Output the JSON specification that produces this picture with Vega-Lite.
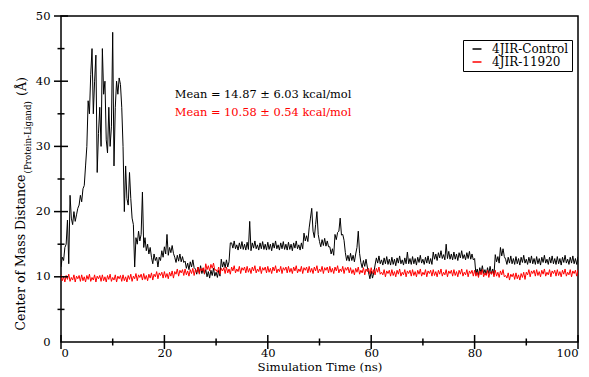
{
  "$schema": "https://vega.github.io/schema/vega-lite/v6.json",
  "width": 517,
  "height": 326,
  "autosize": {"type": "none"},
  "padding": {"left": 61, "top": 16, "right": 11, "bottom": 35},
  "background": "white",
  "config": {
    "font": "DejaVu Serif",
    "view": {"stroke": "black", "strokeWidth": 1.5},
    "axis": {"zindex": 1, "grid": false, "domain": false, "tickOpacity": 0, "labelColor": "black", "labelFont": "DejaVu Serif", "titleFont": "DejaVu Serif", "titleColor": "black", "titleFontWeight": "normal", "labelFontSize": 11.5, "titleFontSize": 12}
  },
  "datasets": {
    "traj": [
{"t":0,"c":11.5,"r":10.3},{"t":0.25,"c":13,"r":9.4},{"t":0.5,"c":12.5,"r":10.0},{"t":0.75,"c":14.5,"r":9.2},
{"t":1,"c":15,"r":10.2},{"t":1.25,"c":18.7,"r":9.6},{"t":1.5,"c":12,"r":10.4},{"t":1.75,"c":22.5,"r":9.3},
{"t":2,"c":19,"r":9.9},{"t":2.25,"c":18,"r":9.5},{"t":2.5,"c":20,"r":10.3},{"t":2.75,"c":18.5,"r":9.2},
{"t":3,"c":19.5,"r":10.1},{"t":3.25,"c":20.5,"r":9.7},{"t":3.5,"c":21,"r":10.2},{"t":3.75,"c":22.5,"r":9.3},
{"t":4,"c":21.5,"r":10.3},{"t":4.25,"c":23.5,"r":9.4},{"t":4.5,"c":24,"r":10.0},{"t":4.75,"c":27,"r":9.2},
{"t":5,"c":30,"r":10.2},{"t":5.25,"c":37,"r":9.6},{"t":5.5,"c":35,"r":10.4},{"t":5.75,"c":41,"r":9.3},
{"t":6,"c":45,"r":9.9},{"t":6.25,"c":35,"r":9.5},{"t":6.5,"c":40,"r":10.3},{"t":6.75,"c":44,"r":9.2},
{"t":7,"c":26,"r":10.1},{"t":7.25,"c":32,"r":9.7},{"t":7.5,"c":36,"r":10.2},{"t":7.75,"c":30,"r":9.3},
{"t":8,"c":45,"r":10.3},{"t":8.25,"c":38,"r":9.4},{"t":8.5,"c":40,"r":10.0},{"t":8.75,"c":31,"r":9.2},
{"t":9,"c":29,"r":10.2},{"t":9.25,"c":36,"r":9.6},{"t":9.5,"c":30,"r":10.4},{"t":9.75,"c":33,"r":9.3},
{"t":10,"c":47.5,"r":9.9},{"t":10.25,"c":27,"r":9.5},{"t":10.5,"c":36,"r":10.3},{"t":10.75,"c":40,"r":9.2},
{"t":11,"c":38,"r":10.1},{"t":11.25,"c":40.5,"r":9.7},{"t":11.5,"c":39.5,"r":10.2},{"t":11.75,"c":36,"r":9.3},
{"t":12,"c":30,"r":10.3},{"t":12.25,"c":20,"r":9.4},{"t":12.5,"c":27,"r":10.0},{"t":12.75,"c":22,"r":9.2},
{"t":13,"c":21,"r":10.2},{"t":13.25,"c":26,"r":9.6},{"t":13.5,"c":22,"r":10.4},{"t":13.75,"c":19,"r":9.3},
{"t":14,"c":18,"r":10.1},{"t":14.25,"c":11.5,"r":9.7},{"t":14.5,"c":16,"r":10.5},{"t":14.75,"c":15,"r":9.4},
{"t":15,"c":17,"r":10.3},{"t":15.25,"c":15.5,"r":9.9},{"t":15.5,"c":16.5,"r":10.4},{"t":15.75,"c":23,"r":9.5},
{"t":16,"c":14.5,"r":10.5},{"t":16.25,"c":16,"r":9.6},{"t":16.5,"c":14,"r":10.2},{"t":16.75,"c":15,"r":9.4},
{"t":17,"c":13.5,"r":10.4},{"t":17.25,"c":14.5,"r":9.8},{"t":17.5,"c":13,"r":10.6},{"t":17.75,"c":12,"r":9.5},
{"t":18,"c":13.5,"r":10.4},{"t":18.25,"c":12.5,"r":10.0},{"t":18.5,"c":13,"r":10.8},{"t":18.75,"c":11.5,"r":9.7},
{"t":19,"c":13,"r":10.6},{"t":19.25,"c":12.5,"r":10.2},{"t":19.5,"c":14,"r":10.7},{"t":19.75,"c":13,"r":9.8},
{"t":20,"c":14.6,"r":10.8},{"t":20.25,"c":13.5,"r":9.9},{"t":20.5,"c":16.5,"r":10.5},{"t":20.75,"c":13.3,"r":9.7},
{"t":21,"c":14.5,"r":10.7},{"t":21.25,"c":13.7,"r":10.1},{"t":21.5,"c":14.8,"r":10.9},{"t":21.75,"c":13.6,"r":9.8},
{"t":22,"c":13.0,"r":10.8},{"t":22.25,"c":12.2,"r":10.4},{"t":22.5,"c":13.3,"r":11.2},{"t":22.75,"c":12.4,"r":10.1},
{"t":23,"c":13.5,"r":11.0},{"t":23.25,"c":12.3,"r":10.6},{"t":23.5,"c":13.1,"r":11.1},{"t":23.75,"c":12.2,"r":10.2},
{"t":24,"c":12.4,"r":11.2},{"t":24.25,"c":11.3,"r":10.3},{"t":24.5,"c":12.1,"r":10.9},{"t":24.75,"c":11.1,"r":10.1},
{"t":25,"c":12.3,"r":11.1},{"t":25.25,"c":11.5,"r":10.5},{"t":25.5,"c":12.6,"r":11.3},{"t":25.75,"c":11.4,"r":10.2},
{"t":26,"c":11.2,"r":11.1},{"t":26.25,"c":10.4,"r":10.7},{"t":26.5,"c":11.5,"r":11.5},{"t":26.75,"c":10.6,"r":10.4},
{"t":27,"c":11.7,"r":11.3},{"t":27.25,"c":10.5,"r":10.9},{"t":27.5,"c":11.3,"r":11.4},{"t":27.75,"c":10.4,"r":10.5},
{"t":28,"c":11.1,"r":12.0},{"t":28.25,"c":10.0,"r":11.1},{"t":28.5,"c":10.8,"r":11.7},{"t":28.75,"c":9.8,"r":10.9},
{"t":29,"c":11.0,"r":11.9},{"t":29.25,"c":10.2,"r":11.3},{"t":29.5,"c":11.3,"r":12.1},{"t":29.75,"c":10.1,"r":11.0},
{"t":30,"c":10.7,"r":11.1},{"t":30.25,"c":9.9,"r":10.7},{"t":30.5,"c":11.0,"r":11.5},{"t":30.75,"c":10.1,"r":10.4},
{"t":31,"c":12.7,"r":11.3},{"t":31.25,"c":11.5,"r":10.9},{"t":31.5,"c":12.3,"r":11.4},{"t":31.75,"c":11.4,"r":10.5},
{"t":32,"c":12.6,"r":11.5},{"t":32.25,"c":11.5,"r":10.6},{"t":32.5,"c":12.3,"r":11.2},{"t":32.75,"c":15.2,"r":10.4},
{"t":33,"c":15.2,"r":11.5},{"t":33.25,"c":14.4,"r":10.9},{"t":33.5,"c":15.5,"r":11.7},{"t":33.75,"c":14.3,"r":10.6},
{"t":34,"c":14.9,"r":11.2},{"t":34.25,"c":14.1,"r":10.8},{"t":34.5,"c":15.2,"r":11.6},{"t":34.75,"c":14.3,"r":10.5},
{"t":35,"c":15.4,"r":11.4},{"t":35.25,"c":14.2,"r":11.0},{"t":35.5,"c":15.0,"r":11.5},{"t":35.75,"c":14.1,"r":10.6},
{"t":36,"c":15.3,"r":11.6},{"t":36.25,"c":14.2,"r":10.7},{"t":36.5,"c":18.5,"r":11.3},{"t":36.75,"c":14.0,"r":10.5},
{"t":37,"c":15.2,"r":11.5},{"t":37.25,"c":14.4,"r":10.9},{"t":37.5,"c":15.5,"r":11.7},{"t":37.75,"c":14.3,"r":10.6},
{"t":38,"c":14.9,"r":11.2},{"t":38.25,"c":14.1,"r":10.8},{"t":38.5,"c":15.2,"r":11.6},{"t":38.75,"c":14.3,"r":10.5},
{"t":39,"c":15.4,"r":11.4},{"t":39.25,"c":14.2,"r":11.0},{"t":39.5,"c":15.0,"r":11.5},{"t":39.75,"c":14.1,"r":10.6},
{"t":40,"c":15.3,"r":11.6},{"t":40.25,"c":14.2,"r":10.7},{"t":40.5,"c":15.0,"r":11.3},{"t":40.75,"c":14.0,"r":10.5},
{"t":41,"c":15.2,"r":11.5},{"t":41.25,"c":14.4,"r":10.9},{"t":41.5,"c":15.5,"r":11.7},{"t":41.75,"c":14.3,"r":10.6},
{"t":42,"c":14.9,"r":11.2},{"t":42.25,"c":14.1,"r":10.8},{"t":42.5,"c":15.2,"r":11.6},{"t":42.75,"c":14.3,"r":10.5},
{"t":43,"c":15.4,"r":11.4},{"t":43.25,"c":14.2,"r":11.0},{"t":43.5,"c":15.0,"r":11.5},{"t":43.75,"c":14.1,"r":10.6},
{"t":44,"c":15.3,"r":11.6},{"t":44.25,"c":14.2,"r":10.7},{"t":44.5,"c":15.0,"r":11.3},{"t":44.75,"c":14.0,"r":10.5},
{"t":45,"c":15.2,"r":11.5},{"t":45.25,"c":14.4,"r":10.9},{"t":45.5,"c":15.5,"r":11.7},{"t":45.75,"c":14.3,"r":10.6},
{"t":46,"c":14.9,"r":11.2},{"t":46.25,"c":14.1,"r":10.8},{"t":46.5,"c":15.2,"r":11.6},{"t":46.75,"c":14.3,"r":10.5},
{"t":47,"c":16.7,"r":11.4},{"t":47.25,"c":15.5,"r":11.0},{"t":47.5,"c":16.3,"r":11.5},{"t":47.75,"c":15.4,"r":10.6},
{"t":48,"c":17.5,"r":11.6},{"t":48.25,"c":19,"r":10.7},{"t":48.5,"c":20.5,"r":11.3},{"t":48.75,"c":17,"r":10.5},
{"t":49,"c":16,"r":11.5},{"t":49.25,"c":18,"r":10.9},{"t":49.5,"c":20,"r":11.7},{"t":49.75,"c":16.5,"r":10.6},
{"t":50,"c":15.4,"r":11.2},{"t":50.25,"c":14.6,"r":10.8},{"t":50.5,"c":15.7,"r":11.6},{"t":50.75,"c":14.8,"r":10.5},
{"t":51,"c":15.9,"r":11.4},{"t":51.25,"c":14.7,"r":11.0},{"t":51.5,"c":15.5,"r":11.5},{"t":51.75,"c":14.6,"r":10.6},
{"t":52,"c":14.6,"r":11.6},{"t":52.25,"c":13.5,"r":10.7},{"t":52.5,"c":14.3,"r":11.3},{"t":52.75,"c":13.3,"r":10.5},
{"t":53,"c":16.5,"r":11.5},{"t":53.25,"c":15.7,"r":10.9},{"t":53.5,"c":16.8,"r":11.7},{"t":53.75,"c":17,"r":10.6},
{"t":54,"c":19,"r":11.2},{"t":54.25,"c":16.4,"r":10.8},{"t":54.5,"c":16.5,"r":11.6},{"t":54.75,"c":15.6,"r":10.5},
{"t":55,"c":13.7,"r":11.4},{"t":55.25,"c":12.5,"r":11.0},{"t":55.5,"c":13.3,"r":11.5},{"t":55.75,"c":12.4,"r":10.6},
{"t":56,"c":13.6,"r":11.4},{"t":56.25,"c":12.5,"r":10.5},{"t":56.5,"c":13.3,"r":11.1},{"t":56.75,"c":12.3,"r":10.3},
{"t":57,"c":13.5,"r":11.3},{"t":57.25,"c":14.5,"r":10.7},{"t":57.5,"c":17,"r":11.5},{"t":57.75,"c":13.6,"r":10.4},
{"t":58,"c":12.2,"r":11.0},{"t":58.25,"c":11.4,"r":10.6},{"t":58.5,"c":12.5,"r":11.4},{"t":58.75,"c":11.6,"r":10.3},
{"t":59,"c":12.7,"r":11.2},{"t":59.25,"c":11.5,"r":10.8},{"t":59.5,"c":10.6,"r":11.3},{"t":59.75,"c":9.7,"r":10.4},
{"t":60,"c":10.9,"r":11.4},{"t":60.25,"c":9.8,"r":10.5},{"t":60.5,"c":10.6,"r":11.1},{"t":60.75,"c":11.8,"r":10.3},
{"t":61,"c":12.9,"r":11.3},{"t":61.25,"c":12.1,"r":10.7},{"t":61.5,"c":13.2,"r":11.5},{"t":61.75,"c":12.0,"r":10.4},
{"t":62,"c":12.6,"r":10.7},{"t":62.25,"c":11.8,"r":10.3},{"t":62.5,"c":12.9,"r":11.1},{"t":62.75,"c":12.0,"r":10.0},
{"t":63,"c":13.1,"r":10.9},{"t":63.25,"c":11.9,"r":10.5},{"t":63.5,"c":12.7,"r":11.0},{"t":63.75,"c":11.8,"r":10.1},
{"t":64,"c":13.0,"r":11.1},{"t":64.25,"c":11.9,"r":10.2},{"t":64.5,"c":12.7,"r":10.8},{"t":64.75,"c":11.7,"r":10.0},
{"t":65,"c":12.9,"r":11.0},{"t":65.25,"c":12.1,"r":10.4},{"t":65.5,"c":13.2,"r":11.2},{"t":65.75,"c":12.0,"r":10.1},
{"t":66,"c":12.6,"r":10.7},{"t":66.25,"c":11.8,"r":10.3},{"t":66.5,"c":12.9,"r":11.1},{"t":66.75,"c":12.0,"r":10.0},
{"t":67,"c":13.8,"r":10.9},{"t":67.25,"c":12.0,"r":10.5},{"t":67.5,"c":12.8,"r":11.0},{"t":67.75,"c":11.9,"r":10.1},
{"t":68,"c":13.1,"r":11.1},{"t":68.25,"c":12.0,"r":10.2},{"t":68.5,"c":12.8,"r":10.8},{"t":68.75,"c":11.8,"r":10.0},
{"t":69,"c":13.0,"r":11.0},{"t":69.25,"c":12.2,"r":10.4},{"t":69.5,"c":13.3,"r":11.2},{"t":69.75,"c":12.1,"r":10.1},
{"t":70,"c":12.7,"r":10.7},{"t":70.25,"c":11.9,"r":10.3},{"t":70.5,"c":13.0,"r":11.1},{"t":70.75,"c":12.1,"r":10.0},
{"t":71,"c":13.2,"r":10.9},{"t":71.25,"c":12.0,"r":10.5},{"t":71.5,"c":12.8,"r":11.0},{"t":71.75,"c":11.9,"r":10.1},
{"t":72,"c":13.8,"r":11.1},{"t":72.25,"c":12.7,"r":10.2},{"t":72.5,"c":13.5,"r":10.8},{"t":72.75,"c":12.5,"r":10.0},
{"t":73,"c":13.7,"r":11.0},{"t":73.25,"c":12.9,"r":10.4},{"t":73.5,"c":14.0,"r":11.2},{"t":73.75,"c":12.8,"r":10.1},
{"t":74,"c":13.4,"r":10.7},{"t":74.25,"c":12.6,"r":10.3},{"t":74.5,"c":15,"r":11.1},{"t":74.75,"c":12.8,"r":10.0},
{"t":75,"c":13.9,"r":10.9},{"t":75.25,"c":12.7,"r":10.5},{"t":75.5,"c":13.5,"r":11.0},{"t":75.75,"c":12.6,"r":10.1},
{"t":76,"c":13.8,"r":11.1},{"t":76.25,"c":12.7,"r":10.2},{"t":76.5,"c":13.5,"r":10.8},{"t":76.75,"c":12.5,"r":10.0},
{"t":77,"c":13.7,"r":11.0},{"t":77.25,"c":12.9,"r":10.4},{"t":77.5,"c":14.0,"r":11.2},{"t":77.75,"c":12.8,"r":10.1},
{"t":78,"c":13.4,"r":10.7},{"t":78.25,"c":12.6,"r":10.3},{"t":78.5,"c":13.7,"r":11.1},{"t":78.75,"c":12.8,"r":10.0},
{"t":79,"c":13.9,"r":10.9},{"t":79.25,"c":12.7,"r":10.5},{"t":79.5,"c":13.5,"r":11.0},{"t":79.75,"c":12.6,"r":10.1},
{"t":80,"c":12.8,"r":11.0},{"t":80.25,"c":10.4,"r":10.1},{"t":80.5,"c":11.2,"r":10.7},{"t":80.75,"c":10.2,"r":9.9},
{"t":81,"c":11.4,"r":10.9},{"t":81.25,"c":10.6,"r":10.3},{"t":81.5,"c":11.7,"r":11.1},{"t":81.75,"c":10.5,"r":10.0},
{"t":82,"c":11.1,"r":10.6},{"t":82.25,"c":10.3,"r":10.2},{"t":82.5,"c":11.4,"r":11.0},{"t":82.75,"c":10.5,"r":9.9},
{"t":83,"c":11.6,"r":10.8},{"t":83.25,"c":10.4,"r":10.4},{"t":83.5,"c":11.2,"r":10.9},{"t":83.75,"c":10.3,"r":10.0},
{"t":84,"c":13.4,"r":11.0},{"t":84.25,"c":12.3,"r":10.1},{"t":84.5,"c":13.1,"r":10.7},{"t":84.75,"c":12.1,"r":9.9},
{"t":85,"c":14.5,"r":10.9},{"t":85.25,"c":13.2,"r":10.3},{"t":85.5,"c":14.3,"r":11.1},{"t":85.75,"c":13.1,"r":10.0},
{"t":86,"c":12.7,"r":10.2},{"t":86.25,"c":11.9,"r":9.8},{"t":86.5,"c":13.0,"r":10.6},{"t":86.75,"c":12.1,"r":9.5},
{"t":87,"c":13.2,"r":10.4},{"t":87.25,"c":12.0,"r":10.0},{"t":87.5,"c":12.8,"r":10.5},{"t":87.75,"c":11.9,"r":9.6},
{"t":88,"c":13.1,"r":10.6},{"t":88.25,"c":12.0,"r":9.7},{"t":88.5,"c":12.8,"r":10.3},{"t":88.75,"c":11.8,"r":9.5},
{"t":89,"c":13.0,"r":10.5},{"t":89.25,"c":12.2,"r":9.9},{"t":89.5,"c":13.3,"r":10.7},{"t":89.75,"c":12.1,"r":9.6},
{"t":90,"c":12.7,"r":10.7},{"t":90.25,"c":11.9,"r":10.3},{"t":90.5,"c":13.0,"r":11.1},{"t":90.75,"c":12.1,"r":10.0},
{"t":91,"c":13.2,"r":10.9},{"t":91.25,"c":12.0,"r":10.5},{"t":91.5,"c":12.8,"r":11.0},{"t":91.75,"c":11.9,"r":10.1},
{"t":92,"c":13.1,"r":11.1},{"t":92.25,"c":12.0,"r":10.2},{"t":92.5,"c":12.8,"r":10.8},{"t":92.75,"c":11.8,"r":10.0},
{"t":93,"c":13.0,"r":11.0},{"t":93.25,"c":12.2,"r":10.4},{"t":93.5,"c":13.3,"r":11.2},{"t":93.75,"c":12.1,"r":10.1},
{"t":94,"c":12.7,"r":10.7},{"t":94.25,"c":11.9,"r":10.3},{"t":94.5,"c":13.0,"r":11.1},{"t":94.75,"c":12.1,"r":10.0},
{"t":95,"c":13.2,"r":10.9},{"t":95.25,"c":12.0,"r":10.5},{"t":95.5,"c":12.8,"r":11.0},{"t":95.75,"c":11.9,"r":10.1},
{"t":96,"c":13.1,"r":11.1},{"t":96.25,"c":12.0,"r":10.2},{"t":96.5,"c":12.8,"r":10.8},{"t":96.75,"c":11.8,"r":10.0},
{"t":97,"c":13.0,"r":11.0},{"t":97.25,"c":12.2,"r":10.4},{"t":97.5,"c":13.3,"r":11.2},{"t":97.75,"c":12.1,"r":10.1},
{"t":98,"c":12.7,"r":10.7},{"t":98.25,"c":11.9,"r":10.3},{"t":98.5,"c":13.0,"r":11.1},{"t":98.75,"c":12.1,"r":10.0},
{"t":99,"c":13.2,"r":10.9},{"t":99.25,"c":12.0,"r":10.5},{"t":99.5,"c":12.8,"r":11.0},{"t":99.75,"c":11.9,"r":10.1},
{"t":100,"c":13.1,"r":11.1}
    ],
    "notes": [
      {"x": 22, "y": 37.9, "label": "Mean = 14.87 ± 6.03 kcal/mol", "series": "c"},
      {"x": 22, "y": 35.1, "label": "Mean = 10.58 ± 0.54 kcal/mol", "series": "r"}
    ],
    "xmajor": [{"v": 0}, {"v": 20}, {"v": 40}, {"v": 60}, {"v": 80}, {"v": 100}],
    "xminor": [{"v": 10}, {"v": 30}, {"v": 50}, {"v": 70}, {"v": 90}],
    "ymajor": [{"v": 10}, {"v": 20}, {"v": 30}, {"v": 40}, {"v": 50}],
    "yminor": [{"v": 5}, {"v": 15}, {"v": 25}, {"v": 35}, {"v": 45}]
  },
  "layer": [
    {
      "data": {"name": "traj"},
      "transform": [{"fold": ["c", "r"], "as": ["series", "value"]}],
      "mark": {"type": "line", "strokeWidth": 1, "clip": true},
      "encoding": {
        "x": {"field": "t", "type": "quantitative", "scale": {"domain": [0, 100], "nice": false, "zero": false},
          "axis": {"orient": "bottom", "values": [0, 20, 40, 60, 80, 100], "offset": -8, "tickSize": 14, "labelPadding": -1, "title": "Simulation Time (ns)", "titleFontSize": 11.8, "titlePadding": 3}},
        "y": {"field": "value", "type": "quantitative", "scale": {"domain": [0, 50], "nice": false},
          "axis": {"orient": "left", "values": [0, 10, 20, 30, 40, 50], "offset": -8, "tickSize": 14, "labelPadding": 5, "title": "Center of Mass Distance", "titleFontSize": 12.5, "titleAngle": 270, "titleAlign": "left", "titleBaseline": "middle", "titleX": -49, "titleY": 314}},
        "color": {"field": "series", "type": "nominal",
          "scale": {"domain": ["c", "r"], "range": ["black", "#ff0000"]},
          "legend": {"title": null, "orient": "none", "legendX": 402, "legendY": 24, "symbolType": "stroke", "symbolSize": 80, "symbolStrokeWidth": 1.5, "labelFont": "DejaVu Serif", "labelFontSize": 12, "labelOffset": 9, "labelColor": "black", "strokeColor": "black", "fillColor": "white", "padding": 3, "rowPadding": 1, "symbolOffset": 5,
            "labelExpr": "datum.label == 'c' ? '4JIR-Control' : '4JIR-11920'"}}
      }
    },
    {
      "data": {"name": "notes"},
      "mark": {"type": "text", "align": "left", "baseline": "middle", "fontSize": 11.4, "font": "DejaVu Serif"},
      "encoding": {
        "x": {"field": "x", "type": "quantitative", "axis": {"orient": "bottom", "values": [10, 30, 50, 70, 90], "offset": -3.5, "tickSize": 7, "labels": false, "title": "(Å)", "titleFontSize": 12.5, "titleAngle": 270, "titleAlign": "left", "titleBaseline": "middle", "titleX": -40, "titleY": -243}},
        "y": {"field": "y", "type": "quantitative", "axis": {"orient": "left", "values": [5, 15, 25, 35, 45], "offset": -3.5, "tickSize": 7, "labels": false, "title": "(Protein-Ligand)", "titleFontSize": 8.7, "titleAngle": 270, "titleAlign": "left", "titleBaseline": "middle", "titleX": -37, "titleY": 157}},
        "text": {"field": "label"},
        "color": {"field": "series", "type": "nominal", "legend": null}
      }
    },
    {
      "data": {"name": "xmajor"},
      "mark": {"type": "tick", "orient": "vertical", "size": 14, "thickness": 1.5, "color": "black", "opacity": 1},
      "encoding": {"x": {"field": "v", "type": "quantitative", "axis": null}, "y": {"datum": 0, "type": "quantitative", "axis": null}}
    },
    {
      "data": {"name": "xminor"},
      "mark": {"type": "tick", "orient": "vertical", "size": 7, "thickness": 1.5, "color": "black", "opacity": 1},
      "encoding": {"x": {"field": "v", "type": "quantitative", "axis": null}, "y": {"datum": 0, "type": "quantitative", "axis": null}}
    },
    {
      "data": {"name": "ymajor"},
      "mark": {"type": "tick", "orient": "horizontal", "size": 14, "thickness": 1.5, "color": "black", "opacity": 1},
      "encoding": {"y": {"field": "v", "type": "quantitative", "axis": null}, "x": {"datum": 0, "type": "quantitative", "axis": null}}
    },
    {
      "data": {"name": "yminor"},
      "mark": {"type": "tick", "orient": "horizontal", "size": 7, "thickness": 1.5, "color": "black", "opacity": 1},
      "encoding": {"y": {"field": "v", "type": "quantitative", "axis": null}, "x": {"datum": 0, "type": "quantitative", "axis": null}}
    }
  ],
  "resolve": {"axis": {"x": "independent", "y": "independent"}}
}
